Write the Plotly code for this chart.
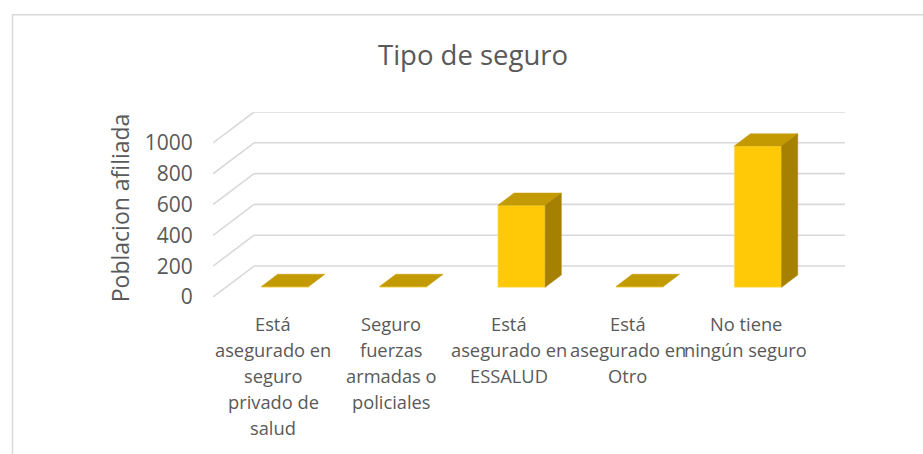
import plotly.graph_objects as go

categories = [
    ["Está", "asegurado en", "seguro", "privado de", "salud"],
    ["Seguro", "fuerzas", "armadas o", "policiales"],
    ["Está", "asegurado en", "ESSALUD"],
    ["Está", "asegurado en", "Otro"],
    ["No tiene", "ningún seguro"],
]
values = [5, 5, 532, 5, 917]
y_ticks = [0, 200, 400, 600, 800, 1000]

TITLE = "Tipo de seguro"
Y_TITLE = "Poblacion afiliada"
FONT = "Open Sans"
GREY = "#595959"
FRONT, TOP, SIDE = "#FFC907", "#C49A02", "#A68000"
GRID = "#D9D9D9"

# Projection of the "3D" floor, in data units
DX, DY = 0.347, 201          # wall depth
BAR_W = 0.40
BAR_DX, BAR_DY = 0.11, 63    # front of bar within the floor
BAR_D_X, BAR_D_Y = 0.137, 80 # bar depth

W, H = 923, 454
L, R, T, B = 213, 78, 111.5, 157
xr = [-0.5, 4.5 + DX]
yr = [0, 1201]
def px(x): return (x - L) / (W - L - R)
def py(y): return (H - B - y) / (H - T - B)

fig = go.Figure()
xs = list(range(len(values)))

fig.add_trace(go.Bar(
    x=[i + BAR_DX for i in xs], y=values, base=BAR_DY, width=BAR_W,
    marker=dict(color=FRONT, line=dict(color="#FFE27A", width=0.6)), hoverinfo="skip",
))

for i, v in zip(xs, values):
    x0 = i + BAR_DX - BAR_W / 2
    x1 = x0 + BAR_W
    y0 = BAR_DY
    y1 = BAR_DY + v
    # top face
    fig.add_trace(go.Scatter(
        x=[x0, x1, x1 + BAR_D_X, x0 + BAR_D_X, x0],
        y=[y1, y1, y1 + BAR_D_Y, y1 + BAR_D_Y, y1],
        mode="lines", fill="toself", fillcolor=TOP, line=dict(color=TOP, width=0.5),
        hoverinfo="skip",
    ))
    # side face
    if v > 20:
        fig.add_trace(go.Scatter(
            x=[x1, x1 + BAR_D_X, x1 + BAR_D_X, x1, x1],
            y=[y0, y0 + BAR_D_Y, y1 + BAR_D_Y, y1, y0],
            mode="lines", fill="toself", fillcolor=SIDE, line=dict(color=SIDE, width=0.5),
            hoverinfo="skip",
        ))

shapes = []
for t in y_ticks:
    shapes.append(dict(type="line", layer="below", xref="x", yref="y",
                       x0=xr[0], y0=t, x1=xr[0] + DX, y1=t + DY,
                       line=dict(color=GRID, width=1.6)))
    shapes.append(dict(type="line", layer="below", xref="x", yref="y",
                       x0=xr[0] + DX, y0=t + DY, x1=xr[1], y1=t + DY,
                       line=dict(color=GRID, width=1.6)))
# chart frame: only its left and top edges are inside the picture
shapes.append(dict(type="path", layer="below", xref="paper", yref="paper",
                   path=f"M {px(12.5)} {py(460)} L {px(12.5)} {py(14)} L {px(930)} {py(14)}",
                   line=dict(color=GRID, width=1.5)))

annotations = [
    dict(text=TITLE, x=px(472.5), y=py(54), xref="paper", yref="paper", showarrow=False,
         xanchor="center", yanchor="middle", font=dict(family=FONT, size=27.5, color=GREY)),
    dict(text=Y_TITLE, x=px(119.5), y=py(207.5), xref="paper", yref="paper", showarrow=False,
         textangle=-90, xanchor="center", yanchor="middle",
         font=dict(family=FONT, size=23, color=GREY)),
]
for i, lines in zip(xs, categories):
    for j, line in enumerate(lines):
        annotations.append(dict(
            text=line, x=i, y=py(324 + 26 * j), xshift=1, xref="x", yref="paper", showarrow=False,
            xanchor="center", yanchor="middle", font=dict(family=FONT, size=18.3, color=GREY),
        ))

fig.update_layout(
    width=W, height=H, autosize=False,
    margin=dict(l=L, r=R, t=T, b=B, pad=0),
    paper_bgcolor="white", plot_bgcolor="rgba(0,0,0,0)",
    showlegend=False, shapes=shapes, annotations=annotations,
    xaxis=dict(range=xr, showgrid=False, zeroline=False, showline=False, showticklabels=False,
               ticks="", fixedrange=True),
    yaxis=dict(range=yr, tickmode="array", tickvals=y_ticks, ticktext=[str(t) for t in y_ticks],
               showgrid=False, zeroline=False, showline=False, ticks="outside", ticklen=15,
               tickcolor="rgba(0,0,0,0)", fixedrange=True,
               tickfont=dict(family=FONT, size=21, color=GREY)),
)

fig.write_html("out.html", config=dict(displayModeBar=False),
               post_script="document.body.style.margin='0';document.body.style.overflow='hidden';")
